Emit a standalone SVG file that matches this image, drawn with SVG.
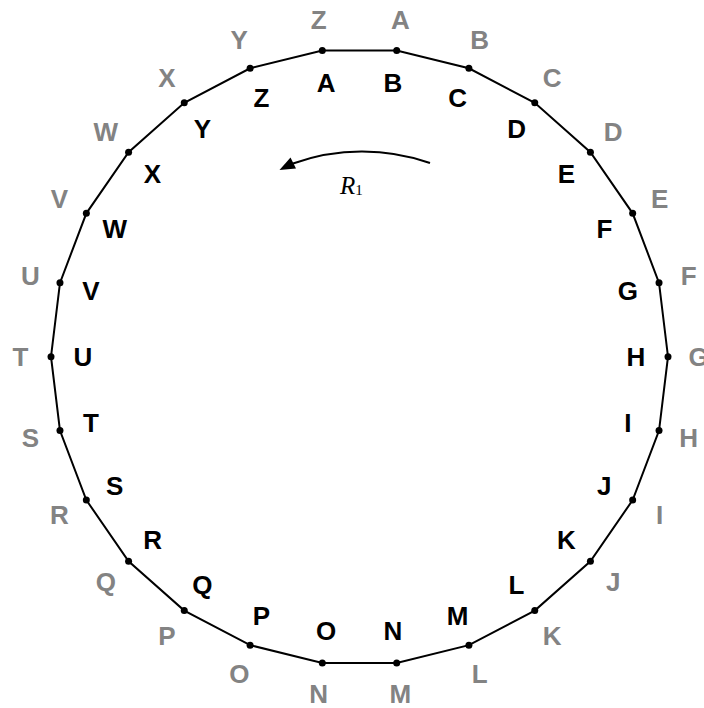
<svg xmlns="http://www.w3.org/2000/svg" width="704" height="708" viewBox="0 0 704 708">
<style>
.in{font-family:"Liberation Sans",Arial,sans-serif;font-weight:bold;font-size:26px;fill:#000;text-anchor:middle}
.out{font-family:"Liberation Sans",Arial,sans-serif;font-weight:bold;font-size:26px;fill:#838383;text-anchor:middle}
.v{fill:#000}
.edge{fill:none;stroke:#000;stroke-width:2}
</style>
<rect width="704" height="708" fill="#fff"/>
<g id="connectors">
<polygon class="edge" points="322.31,50.45 396.69,50.45 468.89,68.25 534.75,102.81 590.42,152.13 632.66,213.33 659.03,282.87 668,356.7 659.03,430.53 632.66,500.07 590.42,561.27 534.75,610.59 468.89,645.15 396.69,662.95 322.31,662.95 250.11,645.15 184.25,610.59 128.58,561.27 86.34,500.07 59.97,430.53 51,356.7 59.97,282.87 86.34,213.33 128.58,152.13 184.25,102.81 250.11,68.25"/>
<path class="edge" d="M430,163 A206 206 0 0 0 293,163.5"/>
<polygon fill="#000" points="279.5,170 290.5,157.5 293.5,163.5 296,168.5"/>
</g>
<g id="vertices">
<circle class="v" r="3.5" cx="322.31" cy="50.45"/>
<circle class="v" r="3.5" cx="396.69" cy="50.45"/>
<circle class="v" r="3.5" cx="468.89" cy="68.25"/>
<circle class="v" r="3.5" cx="534.75" cy="102.81"/>
<circle class="v" r="3.5" cx="590.42" cy="152.13"/>
<circle class="v" r="3.5" cx="632.66" cy="213.33"/>
<circle class="v" r="3.5" cx="659.03" cy="282.87"/>
<circle class="v" r="3.5" cx="668" cy="356.7"/>
<circle class="v" r="3.5" cx="659.03" cy="430.53"/>
<circle class="v" r="3.5" cx="632.66" cy="500.07"/>
<circle class="v" r="3.5" cx="590.42" cy="561.27"/>
<circle class="v" r="3.5" cx="534.75" cy="610.59"/>
<circle class="v" r="3.5" cx="468.89" cy="645.15"/>
<circle class="v" r="3.5" cx="396.69" cy="662.95"/>
<circle class="v" r="3.5" cx="322.31" cy="662.95"/>
<circle class="v" r="3.5" cx="250.11" cy="645.15"/>
<circle class="v" r="3.5" cx="184.25" cy="610.59"/>
<circle class="v" r="3.5" cx="128.58" cy="561.27"/>
<circle class="v" r="3.5" cx="86.34" cy="500.07"/>
<circle class="v" r="3.5" cx="59.97" cy="430.53"/>
<circle class="v" r="3.5" cx="51" cy="356.7"/>
<circle class="v" r="3.5" cx="59.97" cy="282.87"/>
<circle class="v" r="3.5" cx="86.34" cy="213.33"/>
<circle class="v" r="3.5" cx="128.58" cy="152.13"/>
<circle class="v" r="3.5" cx="184.25" cy="102.81"/>
<circle class="v" r="3.5" cx="250.11" cy="68.25"/>
</g>
<g id="inner-labels">
<text class="in" x="326.17" y="91.52">A</text>
<text class="in" x="392.83" y="91.52">B</text>
<text class="in" x="457.55" y="107.47">C</text>
<text class="in" x="516.57" y="138.45">D</text>
<text class="in" x="566.46" y="182.65">E</text>
<text class="in" x="604.33" y="237.5">F</text>
<text class="in" x="627.96" y="299.83">G</text>
<text class="in" x="636" y="366">H</text>
<text class="in" x="627.96" y="432.17">I</text>
<text class="in" x="604.33" y="494.5">J</text>
<text class="in" x="566.46" y="549.35">K</text>
<text class="in" x="516.57" y="593.55">L</text>
<text class="in" x="457.55" y="624.53">M</text>
<text class="in" x="392.83" y="640.48">N</text>
<text class="in" x="326.17" y="640.48">O</text>
<text class="in" x="261.45" y="624.53">P</text>
<text class="in" x="202.43" y="593.55">Q</text>
<text class="in" x="152.54" y="549.35">R</text>
<text class="in" x="114.67" y="494.5">S</text>
<text class="in" x="91.04" y="432.17">T</text>
<text class="in" x="83" y="366">U</text>
<text class="in" x="91.04" y="299.83">V</text>
<text class="in" x="114.67" y="237.5">W</text>
<text class="in" x="152.54" y="182.65">X</text>
<text class="in" x="202.43" y="138.45">Y</text>
<text class="in" x="261.45" y="107.47">Z</text>
</g>
<g id="outer-labels">
<text class="out" x="400.36" y="29.47">A</text>
<text class="out" x="479.71" y="49.03">B</text>
<text class="out" x="552.07" y="87.01">C</text>
<text class="out" x="613.24" y="141.2">D</text>
<text class="out" x="659.67" y="208.46">E</text>
<text class="out" x="688.64" y="284.87">F</text>
<text class="out" x="698.5" y="366">G</text>
<text class="out" x="688.64" y="447.13">H</text>
<text class="out" x="659.67" y="523.54">I</text>
<text class="out" x="613.24" y="590.8">J</text>
<text class="out" x="552.07" y="644.99">K</text>
<text class="out" x="479.71" y="682.97">L</text>
<text class="out" x="400.36" y="702.53">M</text>
<text class="out" x="318.64" y="702.53">N</text>
<text class="out" x="239.29" y="682.97">O</text>
<text class="out" x="166.93" y="644.99">P</text>
<text class="out" x="105.76" y="590.8">Q</text>
<text class="out" x="59.33" y="523.54">R</text>
<text class="out" x="30.36" y="447.13">S</text>
<text class="out" x="20.5" y="366">T</text>
<text class="out" x="30.36" y="284.87">U</text>
<text class="out" x="59.33" y="208.46">V</text>
<text class="out" x="105.76" y="141.2">W</text>
<text class="out" x="166.93" y="87.01">X</text>
<text class="out" x="239.29" y="49.03">Y</text>
<text class="out" x="318.64" y="29.47">Z</text>
</g>
<g id="rotor-label">
<text x="340" y="194" font-family="'Liberation Serif','Times New Roman',serif" font-style="italic" font-size="25">R<tspan font-style="normal" font-size="15" dy="1">1</tspan></text>
</g>
</svg>
